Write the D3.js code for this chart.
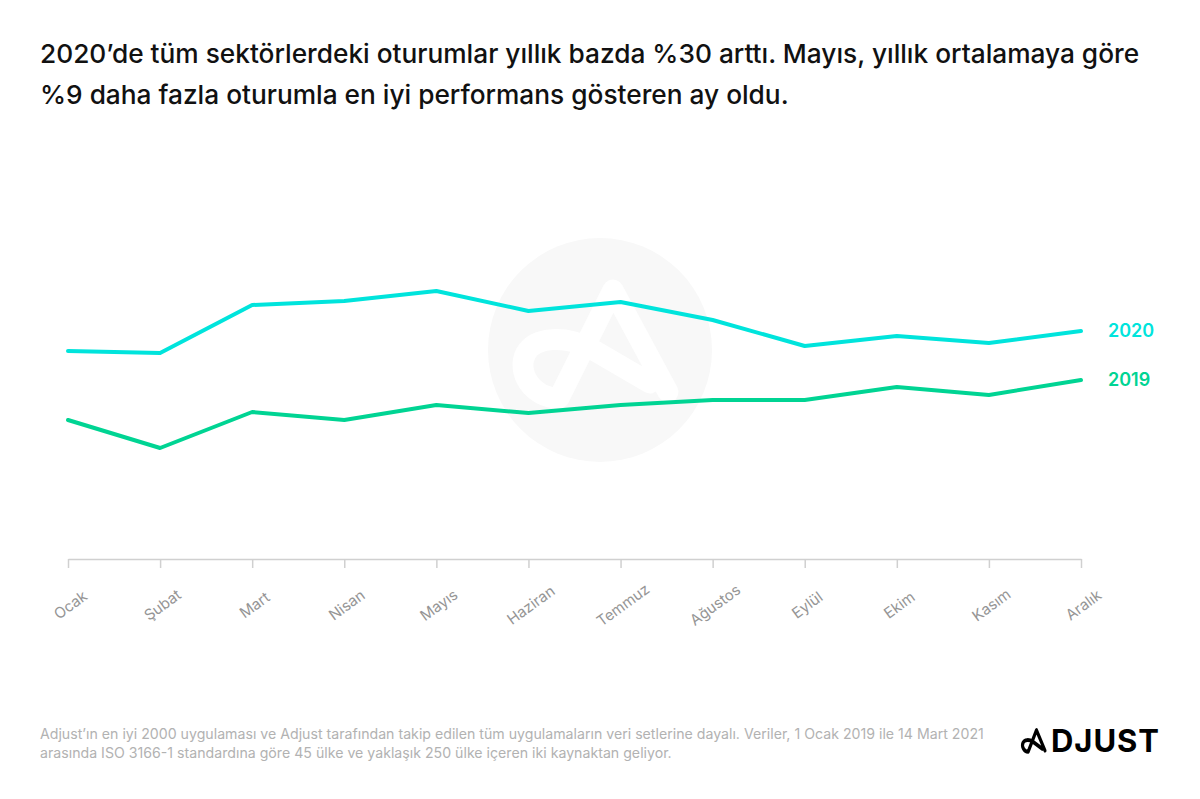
<!DOCTYPE html>
<html>
<head>
<meta charset="utf-8">
<script src="https://cdn.jsdelivr.net/npm/d3@7"></script>
<style>
  body { margin: 0; background: #fff; }
  svg { display: block; font-family: Inter, "Noto Sans", sans-serif; }
</style>
</head>
<body>
<div id="chart"></div>
<script>
const months = ['Ocak', 'Şubat', 'Mart', 'Nisan', 'Mayıs', 'Haziran', 'Temmuz', 'Ağustos', 'Eylül', 'Ekim', 'Kasım', 'Aralık'];
const sessions2020 = [208, 206, 254, 258, 268, 248, 257, 239, 213, 223, 216, 228];
const sessions2019 = [139, 111, 147, 139, 154, 146, 154, 159, 159, 172, 164, 179];
const titleLines = [
  '2020’de tüm sektörlerdeki oturumlar yıllık bazda %30 arttı. Mayıs, yıllık ortalamaya göre',
  '%9 daha fazla oturumla en iyi performans gösteren ay oldu.'
];
const noteLines = [
  'Adjust’ın en iyi 2000 uygulaması ve Adjust tarafından takip edilen tüm uygulamaların veri setlerine dayalı. Veriler, 1 Ocak 2019 ile 14 Mart 2021',
  'arasında ISO 3166-1 standardına göre 45 ülke ve yaklaşık 250 ülke içeren iki kaynaktan geliyor.'
];

const width = 1200, height = 799;
const svg = d3.select('#chart').append('svg')
  .attr('width', width)
  .attr('height', height);

const x = d3.scalePoint().domain(months).range([68, 1081]);
const y = d3.scaleLinear().domain([0, 300]).range([559, 259]);

// the "A" mark, used for the watermark and the logo
const markPath = 'M668 392 L613 290 L559 398 C532 398 516 372 526 353 C536 336 566 336 590 348 L650 383';

// title
const title = svg.append('g');
titleLines.forEach((t, i) => {
  title.append('text')
    .attr('x', 40)
    .attr('y', 63 + i * 41)
    .attr('fill', '#111')
    .style('font-size', '24px')
    .style('font-weight', 500)
    .text(t);
});
// fit the first line to the reference width
const firstLen = title.select('text').node().getComputedTextLength();
title.selectAll('text').style('font-size', (24 * 1100 / firstLen) + 'px');

// watermark
const mark = svg.append('g');
mark.append('circle')
  .attr('cx', 600).attr('cy', 350).attr('r', 112)
  .attr('fill', '#f8f8f8');
mark.append('path')
  .attr('d', markPath)
  .attr('fill', 'none')
  .attr('stroke', '#fff')
  .attr('stroke-width', 21)
  .attr('stroke-linecap', 'round')
  .attr('stroke-linejoin', 'round');

// x axis
const axis = svg.append('g')
  .attr('transform', `translate(0,${y(0)})`)
  .call(d3.axisBottom(x).tickSize(9).tickSizeOuter(0));
axis.select('.domain').attr('stroke', '#d0d0d0').attr('stroke-width', 1.5);
axis.selectAll('.tick line').attr('stroke', '#d0d0d0').attr('stroke-width', 1.5);
axis.selectAll('.tick text')
  .attr('y', 0)
  .attr('dy', '0.35em')
  .attr('text-anchor', 'middle')
  .attr('transform', 'translate(2,46) rotate(-36)')
  .attr('fill', '#959595')
  .style('font-size', '15px')
  .style('font-family', 'Inter, "Noto Sans", sans-serif');

// lines
const series = [
  { name: '2020', values: sessions2020, color: '#00e4dc' },
  { name: '2019', values: sessions2019, color: '#00d493' }
];
const line = d3.line()
  .x((d, i) => x(months[i]))
  .y(d => y(d));

series.forEach(s => {
  svg.append('path')
    .datum(s.values)
    .attr('fill', 'none')
    .attr('stroke', s.color)
    .attr('stroke-width', 4)
    .attr('stroke-linecap', 'round')
    .attr('stroke-linejoin', 'round')
    .attr('d', line);

  svg.append('text')
    .attr('x', 1108)
    .attr('y', y(s.values[s.values.length - 1]) + 6)
    .attr('fill', s.color)
    .style('font-size', '18px')
    .style('font-weight', 600)
    .text(s.name);
});

// footnote
noteLines.forEach((t, i) => {
  svg.append('text')
    .attr('x', 40)
    .attr('y', 739 + i * 19)
    .attr('fill', '#b2b2b2')
    .style('font-size', '13px')
    .attr('class', 'note')
    .text(t);
});
const noteLen = svg.select('.note').node().getComputedTextLength();
svg.selectAll('.note').style('font-size', (13 * 945 / noteLen) + 'px');

// logo
const logo = svg.append('g');
logo.append('path')
  .attr('d', markPath)
  .attr('transform', 'translate(1034,741) scale(0.155,0.2) translate(-597,-344)')
  .attr('fill', 'none')
  .attr('stroke', '#000')
  .attr('stroke-width', 20)
  .attr('stroke-linecap', 'round')
  .attr('stroke-linejoin', 'round');
logo.append('text')
  .attr('x', 1051)
  .attr('y', 752)
  .attr('fill', '#000')
  .attr('textLength', 108)
  .attr('lengthAdjust', 'spacing')
  .style('font-size', '31px')
  .style('font-weight', 700)
  .text('DJUST');
</script>
</body>
</html>
